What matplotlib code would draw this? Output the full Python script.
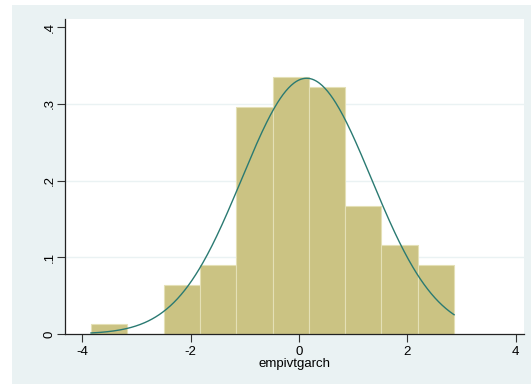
import numpy as np
import matplotlib
matplotlib.use('Agg')
import matplotlib.pyplot as plt
from matplotlib.patches import Rectangle

# histogram of empivtgarch (density scale), 10 bins
bin_edges = [-3.84, -3.17, -2.50, -1.83, -1.16, -0.49, 0.18, 0.85, 1.52, 2.19, 2.86]
density = [0.0129, 0.0, 0.0644, 0.0901, 0.2961, 0.3347, 0.3218, 0.1674, 0.1159, 0.0901]

# fitted normal curve
norm_mean = 0.138
norm_sd = 1.197

x_ticks = [-4, -2, 0, 2, 4]
y_ticks = [0, 0.1, 0.2, 0.3, 0.4]
y_ticklabels = ['0', '.1', '.2', '.3', '.4']
x_label = 'empivtgarch'

plt.rcParams['font.family'] = ['Liberation Sans', 'DejaVu Sans']

fig = plt.figure(figsize=(5.31, 3.85), dpi=100)
# stata style light graph region
fig.patches.append(Rectangle((12 / 531, 1 / 385), 519 / 531, 379 / 385,
                             transform=fig.transFigure, facecolor='#eaf2f3',
                             edgecolor='none', zorder=-5))

ax = fig.add_axes([65 / 531, 51 / 385, 459 / 531, 315 / 385])
ax.set_zorder(1)
ax.set_facecolor('white')

widths = np.diff(bin_edges)
ax.bar(bin_edges[:-1], density, width=widths, align='edge',
       color='#cbc383', edgecolor='#e4e0b6', linewidth=0.8, zorder=2)

xs = np.linspace(bin_edges[0], bin_edges[-1], 400)
ys = np.exp(-0.5 * ((xs - norm_mean) / norm_sd) ** 2) / (norm_sd * np.sqrt(2 * np.pi))
ax.plot(xs, ys, color='#2a7a72', linewidth=1.0, zorder=3)

ax.set_xlim(-4.32, 4.15)
ax.set_ylim(0, 0.4105)

for yv in y_ticks[1:-1]:
    ax.axhline(yv, color='#eaf2f3', linewidth=1.0, zorder=1)

ax.set_xticks(x_ticks)
ax.set_xticklabels([str(v) for v in x_ticks])
ax.set_yticks(y_ticks)
ax.set_yticklabels(y_ticklabels, rotation=90, va='center')
ax.tick_params(axis='both', length=6, width=0.8, color='#333333', labelsize=9.5, pad=2.5)
ax.tick_params(axis='y', pad=1)

for s in ['top', 'right']:
    ax.spines[s].set_visible(False)
for s in ['left', 'bottom']:
    ax.spines[s].set_color('#222222')
    ax.spines[s].set_linewidth(0.9)

ax.set_xlabel(x_label, fontsize=9.5, labelpad=0)

fig.savefig('out.png', dpi=100, facecolor='white')
